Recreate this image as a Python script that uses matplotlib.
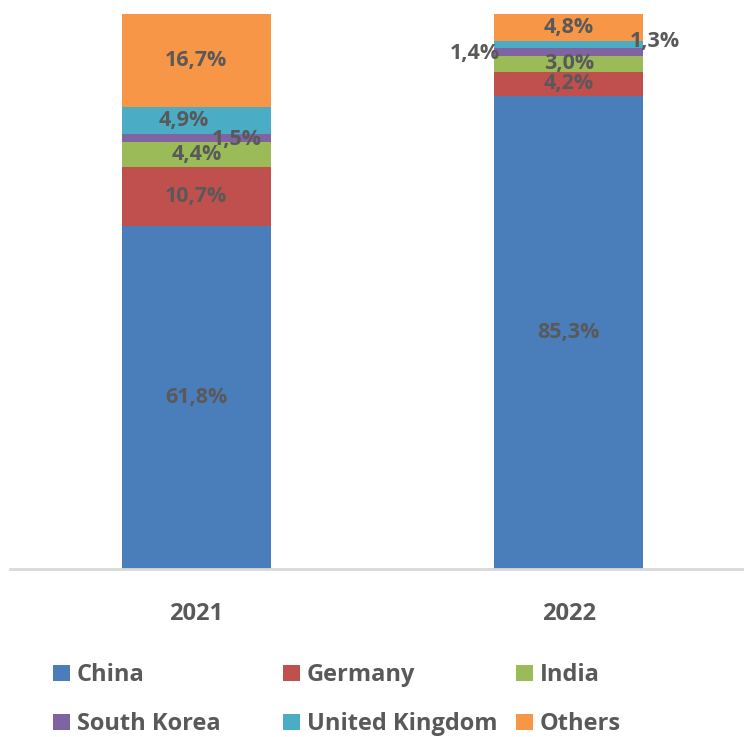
import numpy as np
import matplotlib.pyplot as plt
from matplotlib.patches import Patch

# Share by country (percent)
years = ['2021', '2022']
countries = ['China', 'Germany', 'India', 'South Korea', 'United Kingdom', 'Others']
china = [61.8, 85.3]
germany = [10.7, 4.2]
india = [4.4, 3.0]
south_korea = [1.5, 1.4]
united_kingdom = [4.9, 1.3]
others = [16.7, 4.8]

series = [china, germany, india, south_korea, united_kingdom, others]
colors = ['#4A7EBB', '#C0504D', '#9BBB59', '#8064A2', '#4BACC6', '#F79646']
text_color = '#595959'

# label offsets in pixels (dx, dy) for the crowded small segments
offsets = {(3, 0): (40, -1), (4, 0): (-13, 0),
           (3, 1): (-94, -2), (4, 1): (86, 3)}

plt.rcParams['font.family'] = ['Open Sans', 'DejaVu Sans']
fig = plt.figure(figsize=(7.44, 7.37), dpi=100)
ax = fig.add_axes([10 / 744, 1 - 569 / 737, 734 / 744, 555 / 737])

x = np.arange(len(years))
bottom = np.zeros(len(years))
for i, (vals, c) in enumerate(zip(series, colors)):
    vals = np.array(vals)
    ax.bar(x, vals, 0.4, bottom=bottom, color=c, label=countries[i])
    for j, v in enumerate(vals):
        dx, dy = offsets.get((i, j), (0, 0))
        ax.annotate(f'{v:.1f}%'.replace('.', ','), (x[j], bottom[j] + v / 2),
                    xytext=(dx * 0.72, dy * 0.72), textcoords='offset points',
                    ha='center', va='center', fontsize=15.5, fontweight='bold',
                    color=text_color)
    bottom += vals

ax.set_xlim(-0.5, 1.47)
ax.set_ylim(0, 100)
ax.set_xticks(x)
ax.set_xticklabels(years, fontsize=17, fontweight='bold', color=text_color)
ax.tick_params(axis='x', length=0, pad=24)
ax.set_yticks([])
for s in ['top', 'right', 'left']:
    ax.spines[s].set_visible(False)
ax.spines['bottom'].set_color('#D9D9D9')
ax.spines['bottom'].set_linewidth(2)

# legend: three equal-width columns, two rows
handles = [Patch(facecolor=c) for c in colors]
col_x = [44, 274, 507]
for k in range(3):
    leg = fig.legend([handles[k], handles[k + 3]], [countries[k], countries[k + 3]],
                     loc='upper left', bbox_to_anchor=(col_x[k] / 744, 1 - 654 / 737),
                     frameon=False, handlelength=0.7, handleheight=0.7,
                     handletextpad=0.3, labelspacing=1.05, borderaxespad=0,
                     prop={'size': 17, 'weight': 'bold'})
    for t in leg.get_texts():
        t.set_color(text_color)

fig.savefig('out.png', dpi=100)
